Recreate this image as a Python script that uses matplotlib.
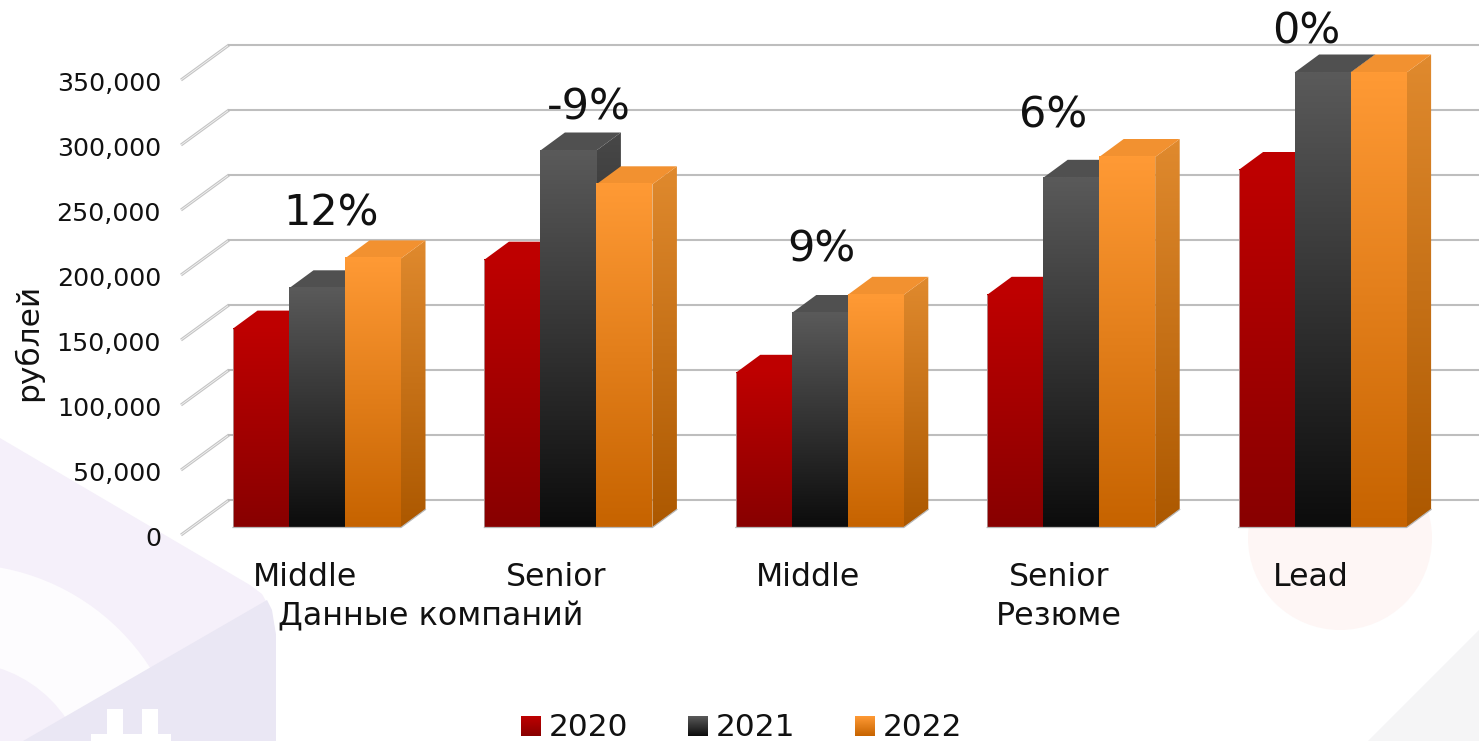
import numpy as np
import matplotlib
matplotlib.use("Agg")
import matplotlib.pyplot as plt
from matplotlib.colors import LinearSegmentedColormap
from matplotlib.patches import Polygon, Circle, Rectangle
from matplotlib.transforms import Affine2D

W, H = 1479, 741

levels = ["Middle", "Senior", "Middle", "Senior", "Lead"]
groups = ["Данные компаний", "Резюме"]
group_members = [[0, 1], [2, 3, 4]]
years = ["2020", "2021", "2022"]
v2020 = [153000, 206000, 119000, 179000, 275000]
v2021 = [184000, 290000, 165000, 269000, 350000]
v2022 = [207000, 264000, 179000, 285000, 350000]
changes = ["12%", "-9%", "9%", "6%", "0%"]
yticks = [0, 50000, 100000, 150000, 200000, 250000, 300000, 350000]

# colours: front top, front bottom, side top, side bottom, top face
colors = [
    ("#BE0000", "#880000", "#A00000", "#700000", "#BE0000"),
    ("#5A5A5A", "#0C0C0C", "#484848", "#0A0A0A", "#505050"),
    ("#FF9A35", "#C66300", "#E08A2E", "#AC5800", "#F29130"),
]

px_per_val = 1.3 / 1000
group_px = 251.4
bar_px = 56
first_center = 317
depth_x = 24.5
depth_y = 18

fig = plt.figure(figsize=(W / 100, H / 100), dpi=100, facecolor="white")
plt.rcParams["font.family"] = "DejaVu Sans"
text_col = "#111111"

# background decoration, pixel coordinates
bg = fig.add_axes([0, 0, 1, 1], zorder=0)
bg.set_xlim(0, W)
bg.set_ylim(H, 0)
bg.axis("off")
light = Polygon([(0, 438), (250, 585), (262, 594), (271, 610), (276, 635), (276, 741), (0, 741)],
                fc="#F5F0FA", ec="none")
bg.add_patch(light)
band = Circle((-40, 790), 226, fc="#FDFCFE", ec="none")
bg.add_patch(band)
bg.add_patch(Circle((-40, 790), 128, fc="#F5F0FA", ec="none"))
bg.add_patch(Polygon([(267, 600), (272, 610), (276, 635), (276, 741), (23, 741)], fc="#EAE7F4", ec="none"))
for r in [(107, 709, 16, 32), (142, 709, 16, 32), (91, 734, 80, 7)]:
    bg.add_patch(Rectangle((r[0], r[1]), r[2], r[3], fc="white", ec="none"))
bg.add_patch(Circle((1340, 538), 92, fc="#FEF6F5", ec="none"))
bg.add_patch(Polygon([(1368, 741), (1479, 630), (1479, 741)], fc="#F5F5F6", ec="none"))

# wall with the value axis
wall = fig.add_axes([181 / W, (H - 535) / H, (W - 181) / W, 455 / H], zorder=1)
wall.patch.set_alpha(0)
wall.set_xlim(181, W)
wall.set_ylim(0, 350000)
for s in wall.spines.values():
    s.set_visible(False)
wall.set_xticks([])
wall.set_yticks(yticks)
wall.set_yticklabels([f"{t:,}" for t in yticks], fontsize=18.3, color=text_col)
wall.tick_params(axis="y", length=0, pad=14.4)
for lbl in wall.get_yticklabels():
    lbl.set_transform(lbl.get_transform() + Affine2D().translate(0, -1.5))
wall_rise = 35 / px_per_val
for t in yticks:
    wall.plot([181, 229], [t, t + wall_rise], color="#C4C4C4", lw=2.2, clip_on=False, solid_capstyle="butt")
    wall.plot([181, 229], [t, t + wall_rise], color="#F4F4F4", lw=0.6, clip_on=False, solid_capstyle="butt")
    wall.plot([229, W], [t + wall_rise, t + wall_rise], color="#BEBEBE", lw=1.5, clip_on=False)
wall.set_ylabel("рублей", fontsize=22.5, color=text_col)
wall.yaxis.set_label_coords(43, 342, transform=bg.transData)

# bars
ax = fig.add_axes([181 / W, (H - 527.5) / H, (W - 181) / W, 527.5 / H], zorder=2)
ax.patch.set_alpha(0)
x_left = (181 - first_center) / group_px
x_right = (W - first_center) / group_px
y_top = 527.5 / px_per_val
bw = bar_px / group_px
dx = depth_x / group_px
dy = depth_y / px_per_val
grad = np.linspace(0, 1, 256).reshape(-1, 1)


def gradient(a, c_top, c_bottom, extent, clip=None):
    cm = LinearSegmentedColormap.from_list("g", [c_bottom, c_top])
    im = a.imshow(grad, cmap=cm, origin="lower", aspect="auto", extent=extent,
                  interpolation="bilinear", vmin=0, vmax=1, zorder=3)
    if clip is not None:
        p = Polygon(clip, transform=a.transData, fc="none", ec="none")
        a.add_patch(p)
        im.set_clip_path(p)
    return im


series = [v2020, v2021, v2022]
for i in range(len(levels)):
    for j, vals in enumerate(series):
        v = vals[i]
        c = colors[j]
        x0 = i + (j - 1.5) * bw
        x1 = x0 + bw
        # side face first, then top, then front
        side = [(x1, 0), (x1 + dx, dy), (x1 + dx, v + dy), (x1, v)]
        gradient(ax, c[2], c[3], (x1, x1 + dx, 0, v + dy), side)
        ax.add_patch(Polygon([(x0, v), (x0 + dx, v + dy), (x1 + dx, v + dy), (x1, v)],
                             fc=c[4], ec="none", zorder=3))
        gradient(ax, c[0], c[1], (x0, x1, 0, v))
    x0 = i - 1.5 * bw
    ax.plot([x0, x0 + 3 * bw, x0 + 3 * bw + dx], [0, 0, dy], color="#B8B8B8", lw=0.9, zorder=4, clip_on=False)
    ax.plot([x0, x0], [0, v2020[i]], color="#B8B8B8", lw=0.5, zorder=4)

ax.set_xlim(x_left, x_right)
ax.set_ylim(0, y_top)
for s in ax.spines.values():
    s.set_visible(False)
ax.set_yticks([])
label_shift = 12 / group_px
tick_pos = [i - label_shift for i in range(len(levels))]
ax.set_xticks(tick_pos)
ax.set_xticklabels(levels, fontsize=22.7, color=text_col)
ax.tick_params(axis="x", length=0, pad=25)

for name, members in zip(groups, group_members):
    gx = np.mean([tick_pos[m] for m in members])
    ax.text(gx, -89 / px_per_val, name, fontsize=22.9, color=text_col, ha="center", va="center", clip_on=False)

# percent labels, pixel positions
pct_x = [331, 589, 821, 1053, 1306]
pct_y = [214, 108, 249, 116, 32]
for s, xp, yp in zip(changes, pct_x, pct_y):
    ax.text((xp - first_center) / group_px, (527.5 - yp) / px_per_val, s, fontsize=31,
            color=text_col, ha="center", va="center", clip_on=False, zorder=5)

# legend with gradient swatches
swatch_x = [521, 688, 855]
for name, sx, c in zip(years, swatch_x, colors):
    gradient(bg, c[0], c[1], (sx, sx + 20, 736, 716))
    bg.text(sx + 28, 727, name, fontsize=22.5, color=text_col, ha="left", va="center")
bg.set_xlim(0, W)
bg.set_ylim(H, 0)

fig.savefig("out.png", dpi=100)
